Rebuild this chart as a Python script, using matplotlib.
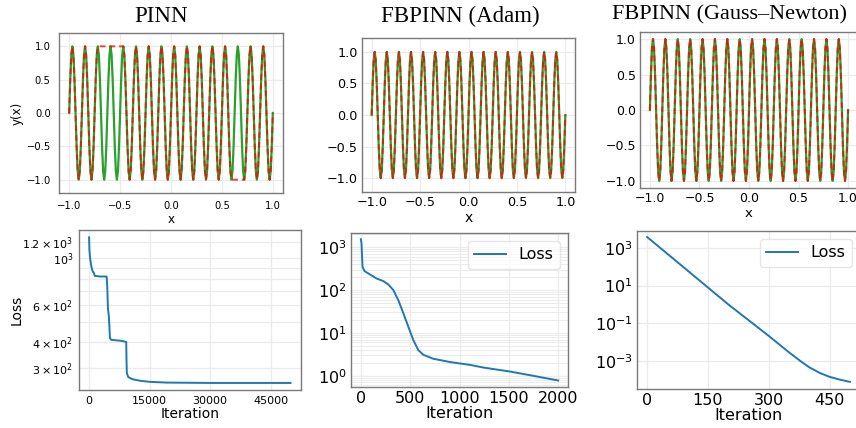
import matplotlib
matplotlib.use("Agg")
import matplotlib.pyplot as plt
import numpy as np
from matplotlib.ticker import FixedLocator, FuncFormatter, NullLocator, LogFormatterSciNotation

# ---------------- data ----------------
# one period of the exact solution (12 samples per period)
exact_cycle = [0.0, 0.5, 0.87, 1.0, 0.87, 0.5, 0.0, -0.5, -0.87, -1.0, -0.87, -0.5]
n_cycles = 16
x_start, x_end = -1.0, 1.0
exact_values = exact_cycle * n_cycles + [0.0]

# regions where the PINN prediction is stuck at +1 / -1
pinn_flat_top = (-0.72, -0.47)
pinn_flat_bottom = (0.59, 0.72)

# PINN loss
pinn_iter = [0, 80, 250, 570, 900, 1150, 1400, 2900, 4350, 4500, 4670, 4900, 5170, 5500,
             7800, 9200, 9270, 9350, 9700, 10660, 12700, 15170, 19270, 30000, 40000, 49900]
pinn_loss = [1257, 1095, 1000, 913, 865, 855, 825, 819, 819, 734, 580, 529, 418, 410,
             406, 401, 330, 285, 273, 267, 262, 259, 257, 256, 256, 256]

# FBPINN (Adam) loss
adam_iter = [0, 7, 10, 17, 37, 91, 159, 227, 278, 329, 380, 430, 481, 531, 582, 633,
             735, 904, 1000, 1107, 1250, 1513, 1750, 2000]
adam_loss = [1535, 1200, 776, 348, 276, 232, 186, 162, 135, 100, 58, 29, 14, 6.9, 4.0, 3.1,
             2.5, 2.1, 1.95, 1.8, 1.55, 1.26, 1.0, 0.78]

# FBPINN (Gauss-Newton) loss
gn_iter = [0, 100, 200, 300, 350, 380, 400, 425, 450, 475, 500]
gn_loss = [3.8e3, 6.2e1, 1.0e0, 2.1e-2, 2.8e-3, 9.0e-4, 4.5e-4, 2.3e-4, 1.4e-4, 1.0e-4, 7.6e-5]

titles = ["PINN", "FBPINN (Adam)", "FBPINN (Gauss\u2013Newton)"]

# ---------------- figure ----------------
W, H = 856, 428
fig = plt.figure(figsize=(W / 100, H / 100), dpi=100)

def px_axes(l, t, r, b):
    return fig.add_axes([l / W, 1 - b / H, (r - l) / W, (b - t) / H])

GRID = "#ebebeb"
SPINE = "#7a7a7a"

def style(ax, fs, pad):
    ax.set_axisbelow(True)
    ax.grid(True, color=GRID, lw=0.9)
    for s in ax.spines.values():
        s.set_color(SPINE)
        s.set_linewidth(1.0)
    ax.tick_params(which="both", length=0, labelsize=fs, pad=pad)

n = len(exact_values)
xs = np.linspace(x_start, x_end, n)
exact = np.array(exact_values)
pinn = exact.copy()
pinn[(xs >= pinn_flat_top[0] - 1e-9) & (xs <= pinn_flat_top[1] + 1e-9)] = 1.0
pinn[(xs >= pinn_flat_bottom[0] - 1e-9) & (xs <= pinn_flat_bottom[1] + 1e-9)] = -1.0

top_boxes = [(59, 33, 283, 193), (362, 38, 575, 192), (640, 32, 858, 188)]
top_fs = [7.2, 9.2, 9.0]
top_lab = [8.5, 10, 9.5]
top_ylim = [1.2, 1.22, 1.1]
top_pad = [6, 3, 3]
preds = [pinn, exact, exact]
for i in range(3):
    ax = px_axes(*top_boxes[i])
    style(ax, top_fs[i], top_pad[i])
    ax.plot(xs, exact, color="#2ca02c", lw=1.6)
    ax.plot(xs, preds[i], color="red", lw=1.4, ls="--", alpha=0.75, dashes=(3, 2))
    ax.set_xlim(-1.1, 1.1)
    ax.set_ylim(-top_ylim[i], top_ylim[i])
    ax.set_xticks([-1.0, -0.5, 0.0, 0.5, 1.0])
    ax.set_yticks([-1.0, -0.5, 0.0, 0.5, 1.0])
    ax.set_xlabel("x", fontsize=top_lab[i], labelpad=1)
    if i == 0:
        ax.set_ylabel("y(x)", fontsize=top_lab[i], labelpad=2)

title_pos = [(161, 22.5, 16.5), (460, 22.5, 16.5), (730, 19, 16.0)]
for t, (cx, by, fs) in zip(titles, title_pos):
    fig.text(cx / W, 1 - by / H, t, ha="center", va="baseline", fontsize=fs,
             family="Liberation Serif")

# ---------- bottom row ----------
# PINN loss
ax = px_axes(79, 230, 301, 390)
style(ax, 8.0, 4)
ax.plot(pinn_iter, pinn_loss, color="#1f77b4", lw=1.4)
ax.set_yscale("log")
ax.set_xlim(-2500, 52500)
ax.set_ylim(237, 1362)
ax.set_xticks([0, 15000, 30000, 45000])
ax.yaxis.set_major_locator(FixedLocator([1000]))
ax.yaxis.set_major_formatter(FuncFormatter(lambda v, p: r"$\mathdefault{10^{3}}$"))
ax.yaxis.set_minor_locator(FixedLocator([300, 400, 500, 600, 700, 800, 900, 1200]))
minor_labels = {300: r"$\mathdefault{3\times10^{2}}$", 400: r"$\mathdefault{4\times10^{2}}$",
                600: r"$\mathdefault{6\times10^{2}}$", 1200: r"$\mathdefault{1.2\times10^{3}}$"}
ax.yaxis.set_minor_formatter(FuncFormatter(lambda v, p: minor_labels.get(int(round(v)), "")))
ax.grid(True, which="minor", axis="y", color=GRID, lw=0.9)
ax.set_xlabel("Iteration", fontsize=10, labelpad=1)
ax.set_ylabel("Loss", fontsize=10, labelpad=-1)

# Adam loss
ax = px_axes(351, 233, 568, 387)
style(ax, 11.5, 3)
ax.plot(adam_iter, adam_loss, color="#1f77b4", lw=1.4, label="Loss")
ax.set_yscale("log")
ax.set_xlim(-100, 2100)
ax.set_ylim(10 ** -0.26, 10 ** 3.33)
ax.set_xticks([0, 500, 1000, 1500, 2000])
ax.set_yticks([1, 10, 100, 1000])
ax.grid(True, which="minor", axis="y", color=GRID, lw=0.7)
ax.set_xlabel("Iteration", fontsize=11.5, labelpad=0)
ax.legend(loc="upper right", fontsize=11.5, frameon=True, edgecolor="#e0e0e0",
          borderpad=0.4, handlelength=2.0)

# Gauss-Newton loss
ax = px_axes(637, 231, 860, 389)
style(ax, 11.5, 3)
ax.plot(gn_iter, gn_loss, color="#1f77b4", lw=1.4, label="Loss")
ax.set_yscale("log")
ax.set_xlim(-25, 525)
ax.set_ylim(10 ** -4.5, 10 ** 3.9)
ax.set_xticks([0, 150, 300, 450])
ax.yaxis.set_major_locator(FixedLocator([1e-3, 1e-1, 1e1, 1e3]))
ax.yaxis.set_major_formatter(LogFormatterSciNotation())
ax.yaxis.set_minor_locator(NullLocator())
ax.set_xlabel("Iteration", fontsize=11.5, labelpad=0)
ax.legend(loc="upper right", fontsize=11.5, frameon=True, edgecolor="#e0e0e0",
          borderpad=0.4, handlelength=2.0)

fig.savefig("out.png", dpi=100)
